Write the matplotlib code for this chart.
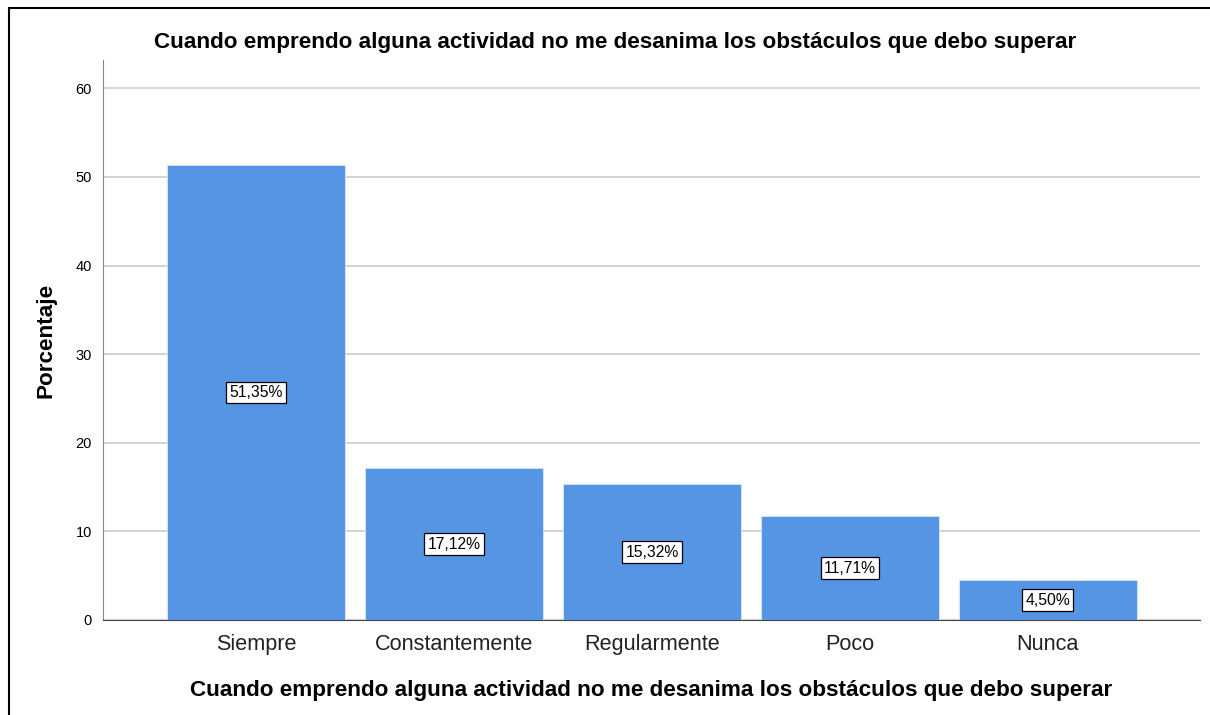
import matplotlib
matplotlib.use("Agg")
import matplotlib.pyplot as plt
from matplotlib.patches import Rectangle

plt.rcParams["font.family"] = ["Liberation Sans", "DejaVu Sans"]

categories = ["Siempre", "Constantemente", "Regularmente", "Poco", "Nunca"]
percentages = [51.35, 17.12, 15.32, 11.71, 4.50]
y_ticks = [0, 10, 20, 30, 40, 50, 60]
title = "Cuando emprendo alguna actividad no me desanima los obstáculos que debo superar"

bar_color = "#5595e3"

fig = plt.figure(figsize=(12.1, 7.15), dpi=100)
ax = fig.add_axes([0.0851, 0.1329, 0.9066, 0.7832])

x = range(len(categories))
ax.bar(x, percentages, width=0.9, color=bar_color, edgecolor="#dbe8f8", linewidth=0.6, zorder=3)

# value boxes at half bar height
for xi, v in zip(x, percentages):
    label = f"{v:.2f}%".replace(".", ",")
    ax.text(xi, v / 2, label, ha="center", va="center", fontsize=11.3, zorder=4,
            bbox=dict(boxstyle="square,pad=0.2", fc="white", ec="black", lw=0.9))

ax.set_xlim(-0.775, 4.77)
ax.set_ylim(0, 63.2)
ax.set_yticks(y_ticks)
ax.set_xticks(list(x))
ax.set_xticklabels(categories, fontsize=15.6, color="#222222")
ax.tick_params(axis="y", labelsize=10.5, length=0, pad=8)
ax.tick_params(axis="x", length=0, pad=10)

ax.grid(axis="y", color="#cccccc", linewidth=1.2, zorder=0)
for s in ["top", "right"]:
    ax.spines[s].set_visible(False)
ax.spines["left"].set_color("#888888")
ax.spines["bottom"].set_color("#444444")

ax.set_ylabel("Porcentaje", fontsize=16.2, fontweight="bold", labelpad=14)
ax.set_xlabel(title, fontsize=16.2, fontweight="bold", labelpad=18)
fig.text(0.508, 0.941, title, ha="center", va="center", fontsize=16.2, fontweight="bold")

# outer frame
fig.patches.append(Rectangle((9 / 1210, -0.05), 1.1, 1 - 8 / 715 + 0.05,
                             transform=fig.transFigure, fill=False, ec="black", lw=1.5))

fig.savefig("out.png", dpi=100)
